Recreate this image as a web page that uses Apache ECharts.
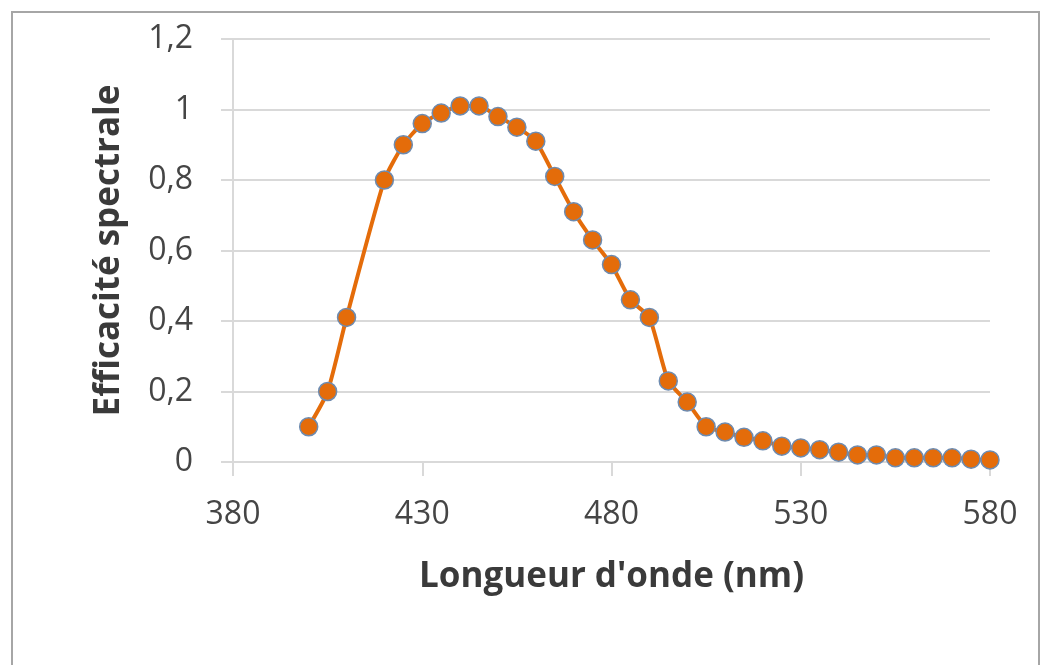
<!DOCTYPE html>
<html>
<head>
<meta charset="utf-8">
<title>Efficacité spectrale</title>
<script src="https://cdn.jsdelivr.net/npm/echarts@6/dist/echarts.min.js"></script>
<style>
    html, body { margin: 0; padding: 0; background: #ffffff; }
    #chart { width: 1044px; height: 665px; }
</style>
</head>
<body>
<div id="chart"></div>
<script>
    // longueurs d'onde (nm) et efficacité
    var wavelengths = [400, 405, 410, 420, 425, 430, 435, 440, 445, 450, 455, 460, 465, 470, 475, 480, 485, 490,
        495, 500, 505, 510, 515, 520, 525, 530, 535, 540, 545, 550, 555, 560, 565, 570, 575, 580];
    var efficiency = [0.10, 0.20, 0.41, 0.80, 0.90, 0.96, 0.99, 1.01, 1.01, 0.98, 0.95, 0.91, 0.81, 0.71, 0.63, 0.56, 0.46, 0.41,
        0.23, 0.17, 0.10, 0.085, 0.07, 0.06, 0.045, 0.04, 0.035, 0.028, 0.02, 0.02, 0.012, 0.012, 0.012, 0.012, 0.008, 0.006];
    var xTicks = [380, 430, 480, 530, 580];
    var yTicks = [0, 0.2, 0.4, 0.6, 0.8, 1, 1.2];

    var points = wavelengths.map(function(w, i) {
        return [w, efficiency[i]];
    });

    var gridColor = '#d9d9d9';
    var font = '"Open Sans", "Liberation Sans", sans-serif';

    var chart = echarts.init(document.getElementById('chart'));
    chart.setOption({
        backgroundColor: '#ffffff',
        animation: false,
        graphic: [{
            type: 'rect',
            shape: { x: 12, y: 12, width: 1027, height: 670 },
            style: { fill: 'none', stroke: '#a6a6a6', lineWidth: 2 },
            z: 0
        }],
        grid: {
            left: 233,
            right: 54,
            top: 39,
            bottom: 203
        },
        xAxis: {
            type: 'value',
            min: xTicks[0],
            max: xTicks[xTicks.length - 1],
            interval: 50,
            name: "Longueur d'onde (nm)",
            nameLocation: 'middle',
            nameGap: 98,
            nameTextStyle: { fontFamily: font, fontSize: 35, fontWeight: 'bold', color: '#3a3a3a' },
            axisLine: { show: true, lineStyle: { color: gridColor, width: 2 } },
            axisTick: { show: true, length: 14, lineStyle: { color: gridColor, width: 2 } },
            splitLine: { show: false },
            axisLabel: { fontFamily: font, fontSize: 32, color: '#454545', margin: 37 }
        },
        yAxis: {
            type: 'value',
            min: yTicks[0],
            max: yTicks[yTicks.length - 1],
            interval: 0.2,
            name: 'Efficacité spectrale',
            nameLocation: 'middle',
            nameGap: 106,
            nameTextStyle: { fontFamily: font, fontSize: 35, fontWeight: 'bold', color: '#3a3a3a' },
            axisLine: { show: true, lineStyle: { color: gridColor, width: 2 } },
            axisTick: { show: true, length: 12, lineStyle: { color: gridColor, width: 2 } },
            splitLine: { show: true, lineStyle: { color: gridColor, width: 2 } },
            axisLabel: {
                fontFamily: font, fontSize: 32, color: '#454545', margin: 40,
                formatter: function(v) {
                    return String(Math.round(v * 10) / 10).replace('.', ',');
                }
            }
        },
        series: [{
            type: 'line',
            data: points,
            smooth: 0.2,
            symbol: 'circle',
            symbolSize: 18,
            lineStyle: { color: '#e46c0a', width: 4 },
            itemStyle: { color: '#e46c0a', borderColor: '#6d8bb0', borderWidth: 1.5 },
            z: 3
        }]
    });
</script>
</body>
</html>
